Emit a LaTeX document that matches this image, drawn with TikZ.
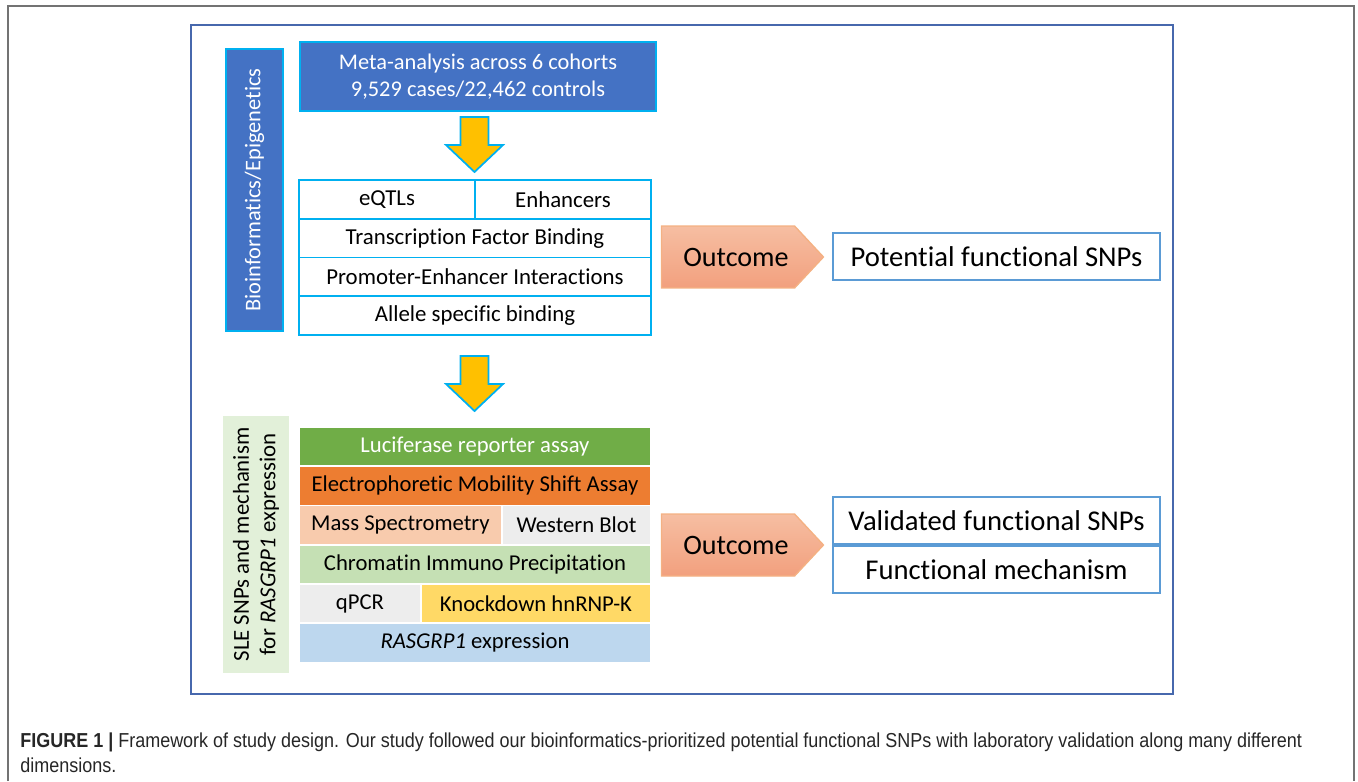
\documentclass[tikz,border=0pt]{standalone}
\usepackage{fontspec}
\setmainfont{Carlito}[Ligatures=NoCommon]
\newfontfamily\capfont[FakeStretch=0.89]{Liberation Sans}
\usepackage{tikz}
\usetikzlibrary{shapes,arrows,positioning,calc}
\definecolor{frameblue}{HTML}{4768AD}
\definecolor{boxblue}{HTML}{4472C4}
\definecolor{skyline}{HTML}{00B0F0}
\definecolor{arrowyel}{HTML}{FFC000}
\definecolor{outtop}{HTML}{F6BEA2}
\definecolor{outbot}{HTML}{F2A07E}
\definecolor{outline}{HTML}{F4B183}
\definecolor{resline}{HTML}{5B9BD5}
\definecolor{lucgreen}{HTML}{70AD47}
\definecolor{emsaorange}{HTML}{ED7D31}
\definecolor{masspeach}{HTML}{F8CBAD}
\definecolor{blotgray}{HTML}{EDEDED}
\definecolor{chipgreen}{HTML}{C5E0B4}
\definecolor{kdyellow}{HTML}{FFD966}
\definecolor{exprblue}{HTML}{BDD7EE}
\definecolor{labelgreen}{HTML}{E2F0D9}
\tikzstyle{cell} = [rectangle, draw=skyline, line width=1pt, fill=white, outer sep=0pt,
    inner sep=0pt, minimum height=0.775cm, font=\fontsize{13}{15}\selectfont]
\tikzstyle{assay} = [rectangle, draw=white, line width=1pt, outer sep=0pt,
    inner sep=0pt, minimum height=0.785cm, font=\fontsize{12.9}{15}\selectfont]

\begin{document}
\begin{tikzpicture}[x=0.02cm, y=-0.02cm]
    % Style definitions
    \tikzstyle{result} = [rectangle, draw=resline, line width=1pt, outer sep=0pt,
        minimum width=6.54cm, minimum height=0.94cm, font=\fontsize{16.3}{19}\selectfont]
    \tikzstyle{outcome} = [signal, signal to=east, signal from=nowhere, signal pointer angle=94,
        draw=outline, line width=0.8pt, top color=outtop, bottom color=outbot,
        minimum width=3.24cm, minimum height=1.24cm, inner sep=0pt, font=\fontsize{16}{19}\selectfont]
    \tikzstyle{yarrow} = [fill=arrowyel, draw=skyline, line width=1pt, line join=miter]
    \tikzstyle{sidelabel} = [rectangle, rotate=90, inner sep=0pt, align=center]
    \tikzstyle{capline} = [anchor=base west, inner sep=0pt, text=black!85,
        font=\capfont\fontsize{11.5}{14}\selectfont]

    \useasboundingbox (0,0) rectangle (1358,781);

    % Frames
    \draw[black!55, line width=1pt] (8,781) -- (8,6) -- (1354,6) -- (1354,781);
    \draw[frameblue, line width=1.2pt] (191,25) rectangle (1173,694);

    % Side labels
    \node[sidelabel, fill=boxblue, draw=skyline, line width=1pt, text=white,
        minimum width=5.64cm, minimum height=1.14cm, font=\fontsize{12.75}{15}\selectfont]
        (bioinfo) at (254.5,190) {Bioinformatics/Epigenetics};
    \node[sidelabel, fill=labelgreen, minimum width=5.14cm, minimum height=1.32cm,
        font=\fontsize{13}{15}\selectfont]
        (slelabel) at (256,544.5) {SLE SNPs and mechanism\\for \textit{RASGRP1} expression};

    % Meta-analysis
    \node[rectangle, fill=boxblue, draw=skyline, line width=1pt, text=white, align=center,
        minimum width=7.12cm, minimum height=1.38cm, font=\fontsize{12.75}{15.5}\selectfont]
        (meta) at (478,76.5) {Meta-analysis across 6 cohorts\\9,529 cases/22,462 controls};

    % Bioinformatics table
    \node[cell, minimum width=3.52cm, anchor=north west] (eqtl) at (299,180) {eQTLs};
    \node[cell, minimum width=3.52cm, right=0pt of eqtl] (enhancer) {Enhancers};
    \node[cell, minimum width=7.04cm, below=0pt of eqtl.south west, anchor=north west] (tfbind) {Transcription Factor Binding};
    \node[cell, minimum width=7.04cm, below=0pt of tfbind] (promenh) {Promoter-Enhancer Interactions};
    \node[cell, minimum width=7.04cm, below=0pt of promenh] (allele) {Allele specific binding};

    % Block arrows
    \coordinate (arrowa) at (474.5,117);
    \coordinate (arrowb) at (474.5,356);
    \foreach \a in {arrowa,arrowb}
        \draw[yarrow] (\a) ++(-14,0) -- ++(28,0) -- ++(0,28) -- ++(14.5,0) -- ++(-28.5,27)
            -- ++(-28.5,-27) -- ++(14.5,0) -- cycle;

    % Outcome 1
    \node[outcome] (outcomea) at (728,257) {\hspace*{0.32cm}Outcome};
    \node[result, anchor=west] (potential) at (833,256.5) {Potential functional SNPs};

    % Laboratory table
    \node[assay, fill=lucgreen, text=white, minimum width=7.04cm, anchor=north west] (luciferase) at (299,427) {Luciferase reporter assay};
    \node[assay, fill=emsaorange, minimum width=7.04cm, below=0pt of luciferase] (emsa) {Electrophoretic Mobility Shift Assay};
    \node[assay, fill=masspeach, minimum width=4.06cm, below=0pt of emsa.south west, anchor=north west] (massspec) {Mass Spectrometry};
    \node[assay, fill=blotgray, minimum width=2.98cm, right=0pt of massspec] (western) {Western Blot};
    \node[assay, fill=chipgreen, minimum width=7.04cm, below=0pt of massspec.south west, anchor=north west] (chip) {Chromatin Immuno Precipitation};
    \node[assay, fill=blotgray, minimum width=2.44cm, below=0pt of chip.south west, anchor=north west] (qpcr) {qPCR};
    \node[assay, fill=kdyellow, minimum width=4.6cm, right=0pt of qpcr] (knockdown) {Knockdown hnRNP-K};
    \node[assay, fill=exprblue, minimum width=7.04cm, below=0pt of qpcr.south west, anchor=north west] (expression) {\textit{RASGRP1} expression};

    % Outcome 2
    \node[outcome] (outcomeb) at (728,545) {\hspace*{0.32cm}Outcome};
    \node[result, anchor=south west] (validated) at (833,544) {Validated functional SNPs};
    \node[result, below=0.04cm of validated] (mechanism) {Functional mechanism};

    % Caption
    \node[capline] (capa) at (20,747) {\textbf{FIGURE 1 |} Framework of study design. Our study followed our bioinformatics-prioritized potential functional SNPs with laboratory validation along many different};
    \node[capline] (capb) at (20,772) {dimensions.};
\end{tikzpicture}
\end{document}
